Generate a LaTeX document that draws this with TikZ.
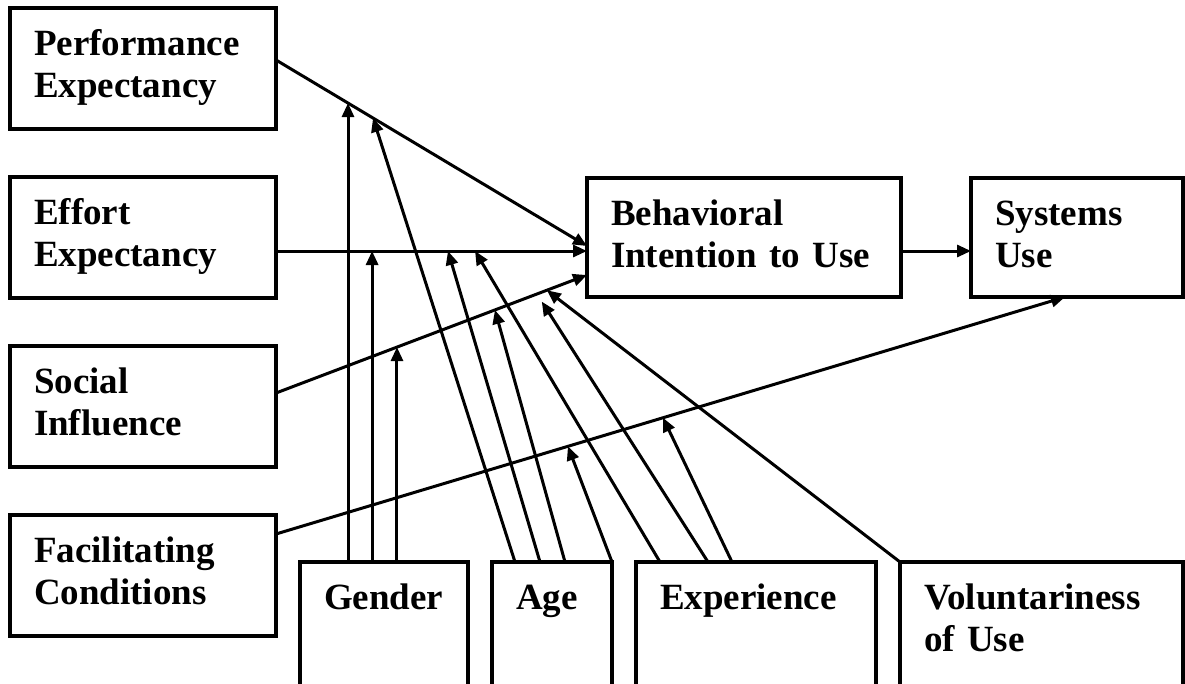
\documentclass[tikz,border=0pt]{standalone}
\usepackage{fontspec}
\setmainfont{Liberation Serif}
\usetikzlibrary{arrows.meta}

\tikzset{
  box/.style={draw, line width=3.2pt, outer sep=0pt, anchor=north west, align=left,
    inner xsep=24pt, inner ysep=21.5pt, text height=26pt,
    font=\bfseries\fontsize{37pt}{42pt}\selectfont},
  link/.style={->, line width=3pt},
}

\begin{document}
\begin{tikzpicture}[x=1pt, y=-1pt, >={Triangle[length=14pt,width=12pt]}]
  \useasboundingbox (0,0) rectangle (1185,683);
  \clip (0,0) rectangle (1185,683);

  \node[box, text width=218pt, text depth=52pt] (pe) at (10,8) {Performance\\Expectancy};
  \node[box, text width=218pt, text depth=52pt] (ee) at (10,177) {Effort\\Expectancy};
  \node[box, text width=218pt, text depth=52pt] (si) at (10,346) {Social\\Influence};
  \node[box, text width=218pt, text depth=52pt] (fc) at (10,515) {Facilitating\\Conditions};

  \node[box, text width=266pt, text depth=50pt] (bi) at (587,178) {Behavioral\\Intention to Use};
  \node[box, text width=164pt, text depth=50pt] (su) at (971,178) {Systems\\Use};

  \node[box, text width=120pt, text depth=80pt] (gender) at (300,562) {Gender};
  \node[box, text width=72pt, text depth=80pt] (age) at (492,562) {Age};
  \node[box, text width=192pt, text depth=80pt] (exper) at (636,562) {Experience};
  \node[box, text width=235pt, text depth=80pt] (volun) at (900,562) {Voluntariness\\of Use};

  % direct effects
  \draw[link] ([yshift=8.5pt]pe.east) -- coordinate[pos=0.2315] (pg) coordinate[pos=0.312] (pa)
    ([yshift=-8.5pt]bi.west);
  \draw[link] ([yshift=-13.5pt]ee.east) -- coordinate[pos=0.309] (eg) coordinate[pos=0.553] (ea)
    coordinate[pos=0.64] (ex) ([yshift=-13.5pt]bi.west);
  \draw[link] ([yshift=13.5pt]si.east) -- coordinate[pos=0.389] (sg) coordinate[pos=0.704] (sa)
    coordinate[pos=0.839] (sx) coordinate[pos=0.871] (sv) ([yshift=-37.5pt]bi.west);
  \draw[link] ([yshift=41.5pt]fc.east) -- coordinate[pos=0.37] (fa) coordinate[pos=0.4905] (fx)
    ([xshift=-12pt]su.south);
  \draw[link] ([yshift=-13.5pt]bi.east) -- ([yshift=-13.5pt]su.west);

  % moderators
  \draw[link] (pg |- gender.north) -- (pg);
  \draw[link] (eg |- gender.north) -- (eg);
  \draw[link] (sg |- gender.north) -- (sg);

  \draw[link] ([xshift=23pt]age.north west) -- (pa);
  \draw[link] ([xshift=48pt]age.north west) -- (ea);
  \draw[link] ([xshift=73pt]age.north west) -- (sa);
  \draw[link] (age.north east) -- (fa);

  \draw[link] ([xshift=24pt]exper.north west) -- (ex);
  \draw[link, shorten >=9pt] ([xshift=72pt]exper.north west) -- (sx);
  \draw[link] ([xshift=96pt]exper.north west) -- (fx);

  \draw[link] (volun.north west) -- (sv);
\end{tikzpicture}
\end{document}
